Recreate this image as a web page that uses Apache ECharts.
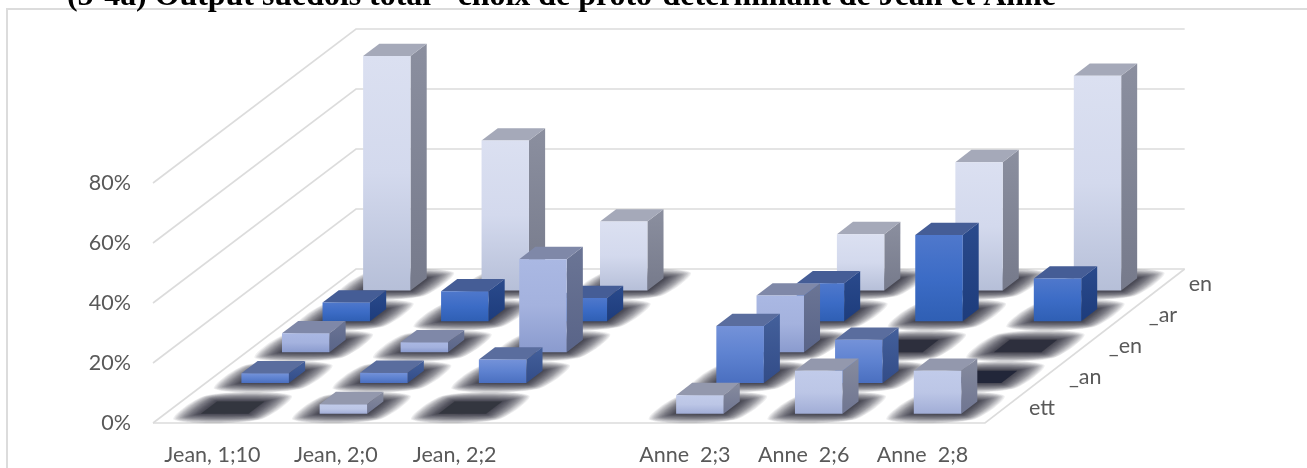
<!DOCTYPE html>
<html>
<head>
<meta charset="utf-8">
<style>html,body{margin:0;padding:0;background:#fff}#chart{width:1307px;height:468px}</style>
<script src="https://cdn.jsdelivr.net/npm/echarts@6/dist/echarts.min.js"></script>
</head>
<body>
<div id="chart"></div>
<script>
// Age points for each child; the empty slot separates Jean from Anne.
const ages = ['Jean, 1;10', 'Jean, 2;0', 'Jean, 2;2', '', 'Anne  2;3', 'Anne  2;6', 'Anne  2;8'];
const ticks = [0, 20, 40, 60, 80];

// Share of proto-determiners per form, in percent, front row to back row.
const formNames = ['ett', '_an', '_en', '_ar', 'en'];
const valuesEtt = [0, 3.2, 0, null, 6.2, 14.3, 14.3];
const valuesAn = [3.2, 3.4, 7.8, null, 19, 14.4, 0];
const valuesEnSuffix = [6.3, 3.3, 31, null, 18.9, 0, 0];
const valuesAr = [6.3, 10, 7.8, null, 12.7, 28.8, 14.3];
const valuesEn = [78.2, 50, 23, null, 18.8, 42.8, 71.6];
const rows = [valuesEtt, valuesAn, valuesEnSuffix, valuesAr, valuesEn];

// Projection: screen offset of one form row along the floor, plus the slight
// horizontal narrowing that each row further back receives.
const ROW_DX = 40.6, ROW_DY = -30.8;
const ROW_SHRINK = 0.0008;
const BAR_SHARE = 0.4;
const GRID_COLOR = '#dcdcdc';
const TEXT_COLOR = '#595959';
const LABEL_FONT = 'Lato, "Open Sans", sans-serif';
const LABEL_SIZE = 21.5;

// Per-label padding that nudges each age label sideways under its bars.
const ageLabelStyle = ['plain', 'right', 'right', 'plain', 'left', 'left', 'left'];
const richBase = { color: TEXT_COLOR, fontFamily: LABEL_FONT, fontSize: LABEL_SIZE };
const ageRich = {
  plain: { ...richBase },
  right: { ...richBase, padding: [0, 0, 0, 9] },
  left: { ...richBase, padding: [0, 6, 0, 0] }
};

const faces = [
  { front: ['#c1cbea', '#bcc6e6', '#a1add6'], side: ['#868b9e', '#6f7591'], top: '#9398ad', flat: '#33363f' },
  { front: ['#7492d9', '#5e82d0', '#4a6fc0'], side: ['#44609b', '#324c88'], top: '#5a6d9e', flat: '#222639' },
  { front: ['#aab8e3', '#a4b2de', '#8a9bce'], side: ['#6b7595', '#596488'], top: '#7f88a8', flat: '#2d2f3d' },
  { front: ['#4f78cc', '#3c6cc6', '#2f5fb4'], side: ['#2a4a8c', '#1d3c7c'], top: '#455d96', flat: '#222' },
  { front: ['#dbe0f1', '#d3d9ed', '#b6bfd8'], side: ['#8b8f9f', '#767a8b'], top: '#a5a9b9', flat: '#333' }
];

function vertical(stops) {
  const n = stops.length - 1;
  return new echarts.graphic.LinearGradient(0, 0, 0, 1,
    stops.map((color, i) => ({ offset: i / n, color })));
}

// Maps a front-plane x to its screen x at a given depth in rows.
function depthX(cs, x, depth) {
  return cs.x + (x - cs.x) * (1 - ROW_SHRINK * depth) + ROW_DX * depth;
}

// The bar's footprint corners on the floor, for one category and form row.
function footprint(params, api, rowIndex, value) {
  const cs = params.coordSys;
  const band = api.size([1, 0])[0];
  const w = band * BAR_SHARE;
  const c = api.coord([value, 0]);
  const near = rowIndex + (1 - BAR_SHARE) / 2;
  const far = near + BAR_SHARE;
  return {
    nearL: depthX(cs, c[0] - w / 2, near),
    nearR: depthX(cs, c[0] + w / 2, near),
    farL: depthX(cs, c[0] - w / 2, far),
    farR: depthX(cs, c[0] + w / 2, far),
    y: c[1] + ROW_DY * near,
    dy: ROW_DY * BAR_SHARE
  };
}

// Back wall and side wall rules, one per tick of the value axis.
function renderWalls(params, api) {
  const cs = params.coordSys;
  const y = api.coord([0, api.value(1)])[1];
  const left = cs.x, right = cs.x + cs.width;
  const depth = formNames.length;
  const by = y + ROW_DY * depth;
  const style = { fill: 'none', stroke: GRID_COLOR, lineWidth: 1.6 };
  const children = [{
    type: 'polyline',
    shape: { points: [[left, y], [depthX(cs, left, depth), by], [depthX(cs, right, depth), by]] },
    style
  }];
  if (api.value(1) === 0) {
    children.push({
      type: 'polyline',
      shape: { points: [[left, y], [right, y], [depthX(cs, right, depth), by]] },
      style
    });
  }
  return { type: 'group', children };
}

// Soft contact shadow on the floor: nested translucent shapes, wider than tall,
// whose outlines round off slightly towards the outside.
function renderShadow(params, api) {
  if (isNaN(api.value(1))) return null;
  const f = footprint(params, api, api.value(2), api.value(0));
  const layers = [];
  const n = 22;
  for (let k = n - 1; k >= 0; k--) {
    const t = k / (n - 1);
    const sx = 19 * t, sy = 6 * t;
    const lean = (f.farL - f.nearL) / f.dy * sy;
    layers.push({
      type: 'polygon',
      shape: {
        smooth: 0.3 * t,
        points: [
          [f.nearL - sx + lean, f.y + sy],
          [f.nearR + sx + lean, f.y + sy],
          [f.farR + sx - lean, f.y + f.dy - sy],
          [f.farL - sx - lean, f.y + f.dy - sy]
        ]
      },
      style: { fill: 'rgba(35,35,38,0.072)' }
    });
  }
  return { type: 'group', children: layers };
}

function renderBar(rowIndex) {
  const look = faces[rowIndex];
  return function (params, api) {
    const v = api.value(1);
    if (isNaN(v)) return null;
    const f = footprint(params, api, rowIndex, api.value(0));
    const h = api.coord([api.value(0), 0])[1] - api.coord([api.value(0), v])[1];
    const topY = f.y - h;
    const backY = topY + f.dy;
    const topFace = [[f.nearL, topY], [f.nearR, topY], [f.farR, backY], [f.farL, backY]];
    if (v === 0) {
      return { type: 'polygon', shape: { points: topFace }, style: { fill: look.flat } };
    }
    return {
      type: 'group',
      children: [
        {
          type: 'polygon',
          shape: { points: [[f.nearR, f.y], [f.farR, f.y + f.dy], [f.farR, backY], [f.nearR, topY]] },
          style: { fill: vertical(look.side) }
        },
        { type: 'polygon', shape: { points: topFace }, style: { fill: look.top } },
        {
          type: 'rect',
          shape: { x: f.nearL, y: topY, width: f.nearR - f.nearL, height: h },
          style: { fill: vertical(look.front) }
        }
      ]
    };
  };
}

// Form names sit just past the right edge of the floor, one per row.
function renderFormLabel(params, api) {
  const r = api.value(0);
  const cs = params.coordSys;
  const y = api.coord([0, 0])[1];
  return {
    type: 'text',
    style: {
      text: formNames[r],
      x: depthX(cs, cs.x + cs.width, r + 0.5) + 24,
      y: y + ROW_DY * (r + 0.5),
      fill: TEXT_COLOR,
      font: LABEL_SIZE + 'px ' + LABEL_FONT,
      textAlign: 'left',
      textVerticalAlign: 'middle'
    }
  };
}

const shadowData = [];
rows.forEach((values, r) => values.forEach((v, i) => shadowData.push([i, v, r])));

const chart = echarts.init(document.getElementById('chart'), null, { renderer: 'canvas' });
chart.setOption({
  animation: false,
  backgroundColor: '#fff',
  title: {
    text: '(5-4a) Output suédois total - choix de proto-déterminant de Jean et Anne',
    left: 62,
    top: -24,
    textStyle: { fontFamily: '"Liberation Serif", serif', fontWeight: 'bold', fontSize: 31.9, color: '#000' }
  },
  graphic: [{
    type: 'polyline',
    silent: true,
    shape: { points: [[7, 468], [7, 9], [1307, 9]] },
    style: { fill: 'none', stroke: GRID_COLOR, lineWidth: 2 }
  }],
  grid: { left: 153, top: 183, width: 832, height: 240 },
  xAxis: {
    type: 'category',
    data: ages,
    axisLine: { show: false },
    axisTick: { show: false },
    axisLabel: {
      interval: 0,
      margin: 21,
      color: TEXT_COLOR,
      fontFamily: LABEL_FONT,
      fontSize: LABEL_SIZE,
      formatter: (label, i) => (label ? '{' + ageLabelStyle[i] + '|' + label + '}' : ''),
      rich: ageRich
    }
  },
  yAxis: {
    type: 'value',
    min: 0,
    max: 80,
    interval: 20,
    splitLine: { show: false },
    axisLine: { show: false },
    axisTick: { show: false },
    axisLabel: { margin: 22, color: TEXT_COLOR, fontFamily: LABEL_FONT, fontSize: LABEL_SIZE, formatter: '{value}%' }
  },
  series: [
    {
      type: 'custom', z: 1, silent: true, renderItem: renderWalls,
      data: ticks.map(t => [0, t]), encode: { x: 0, y: 1 }
    },
    {
      type: 'custom', z: 2, silent: true, renderItem: renderShadow,
      data: shadowData, encode: { x: 0, y: 1 }
    },
    ...rows.map((values, r) => ({
      type: 'custom',
      name: formNames[r],
      z: 10 + (formNames.length - r),
      silent: true,
      renderItem: renderBar(r),
      data: values.map((v, i) => [i, v]),
      encode: { x: 0, y: 1 }
    })),
    {
      type: 'custom', z: 20, silent: true, renderItem: renderFormLabel,
      data: formNames.map((n, r) => [r, 0]), encode: { x: 0, y: 1 }
    }
  ]
});
</script>
</body>
</html>
